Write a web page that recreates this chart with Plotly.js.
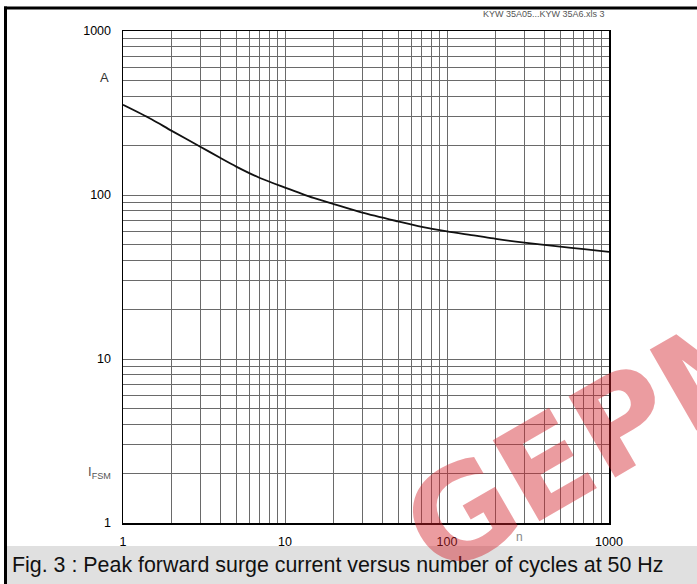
<!DOCTYPE html>
<html>
<head>
<meta charset="utf-8">
<script src="https://cdn.plot.ly/plotly-3.0.1.min.js"></script>
<style>html,body{margin:0;padding:0;background:#fff;}#chart{width:697px;height:584px;}</style>
</head>
<body>
<div id="chart"></div>
<script>
// ---- data ----
var cycles  = [1, 1.5, 2, 3, 4, 5, 7, 10, 15, 20, 30, 50, 70, 100, 150, 200, 300, 500, 700, 1000];
var current = [355, 290, 246, 197, 168, 149, 127, 111, 96, 88, 78, 69, 64, 60, 56.5, 54, 51.2, 48.4, 46.8, 45];

var xTickLabels = ['1', '10', '100', '1000'];
var yTickLabels = ['1', '10', '100', '1000'];
var captionText = 'Fig. 3 : Peak forward surge current versus number of cycles at 50 Hz';
var fileText = 'KYW 35A05...KYW 35A6.xls 3';

// ---- layout helpers ----
var W = 697, H = 584, L = 123, R = 609, T = 31, B = 523;
function px(x) { return (x - L) / (R - L); }
function py(y) { return (B - y) / (B - T); }

function logGrid(labels) {
  var vals = [], text = [];
  for (var d = 0; d < labels.length - 1; d++) {
    var base = Number(labels[d]);
    for (var k = 1; k <= 9; k++) {
      vals.push(base * k);
      text.push(k === 1 ? labels[d] : ' ');
    }
  }
  vals.push(Number(labels[labels.length - 1]));
  text.push(labels[labels.length - 1]);
  return {vals: vals, text: text};
}
var xg = logGrid(xTickLabels), yg = logGrid(yTickLabels);

var font = 'Liberation Sans, Arial, sans-serif';

var trace = {
  x: cycles, y: current, type: 'scatter', mode: 'lines',
  line: {color: '#111', width: 1.8, shape: 'spline', smoothing: 0.8},
  hoverinfo: 'skip'
};

var layout = {
  template: {},
  width: W, height: H,
  margin: {l: L, r: W - R, t: T, b: H - B, pad: 0},
  paper_bgcolor: '#fff', plot_bgcolor: '#fff',
  showlegend: false,
  font: {family: font, size: 12, color: '#000'},
  xaxis: {
    type: 'log', range: [0, 3], tickmode: 'array', tickvals: xg.vals, ticktext: xg.text,
    tickangle: 0,
    showgrid: true, gridcolor: '#6a6a6a', gridwidth: 1,
    showline: true, linecolor: '#000', linewidth: 1.5, mirror: true,
    ticks: '', ticklabelstandoff: 6, zeroline: false,
    tickfont: {family: font, size: 12.5, color: '#000'}
  },
  yaxis: {
    type: 'log', range: [0, 3], tickmode: 'array', tickvals: yg.vals, ticktext: yg.text,
    showgrid: true, gridcolor: '#6a6a6a', gridwidth: 1,
    showline: true, linecolor: '#000', linewidth: 1.5, mirror: true,
    ticks: '', ticklabelstandoff: 8, zeroline: false,
    tickfont: {family: font, size: 12.5, color: '#000'}
  },
  shapes: [
    {type: 'rect', xref: 'paper', yref: 'paper', x0: px(7), x1: px(W), y0: py(546), y1: py(H),
     fillcolor: '#e0e0e0', line: {width: 0}, layer: 'below'},
    {type: 'line', xref: 'paper', yref: 'paper', x0: px(5.5), x1: px(5.5), y0: py(6.5), y1: py(H),
     line: {color: '#000', width: 3}},
    {type: 'line', xref: 'paper', yref: 'paper', x0: px(4), x1: px(W), y0: py(8), y1: py(8),
     line: {color: '#000', width: 3}}
  ],
  annotations: [
    {text: captionText, xref: 'paper', yref: 'paper', x: px(10), y: py(565), xanchor: 'left', yanchor: 'middle',
     showarrow: false, font: {family: font, size: 21.4, color: '#111'}},
    {text: fileText, xref: 'paper', yref: 'paper', x: px(607), y: py(14), xanchor: 'right', yanchor: 'middle',
     showarrow: false, font: {family: font, size: 9, color: '#555'}},
    {text: 'A', xref: 'paper', yref: 'paper', x: px(104), y: py(77), xanchor: 'center', yanchor: 'middle',
     showarrow: false, font: {family: font, size: 13, color: '#333'}},
    {text: 'I<sub>FSM</sub>', xref: 'paper', yref: 'paper', x: px(113), y: py(472), xanchor: 'right', yanchor: 'middle',
     showarrow: false, font: {family: font, size: 13, color: '#555'}},
    {text: 'n', xref: 'paper', yref: 'paper', x: px(519), y: py(537), xanchor: 'center', yanchor: 'middle',
     showarrow: false, font: {family: font, size: 12, color: '#888'}},
    {text: '<b>GEPM</b>', xref: 'paper', yref: 'paper', x: px(595), y: py(437), xanchor: 'center', yanchor: 'middle',
     textangle: -30, showarrow: false,
     font: {family: 'DejaVu Sans, sans-serif', size: 128, color: 'rgba(210,35,45,0.45)'}}
  ]
};

Plotly.newPlot('chart', [trace], layout, {staticPlot: true, displayModeBar: false});
</script>
</body>
</html>
